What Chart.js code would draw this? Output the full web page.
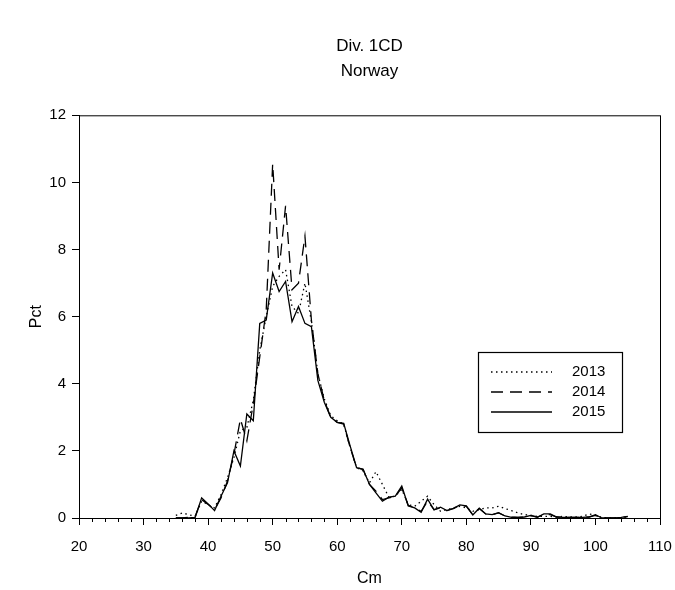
<!DOCTYPE html>
<html>
<head>
<meta charset="utf-8">
<script src="https://cdn.jsdelivr.net/npm/chart.js@4.4.1/dist/chart.umd.min.js"></script>
<style>
  html, body { margin: 0; padding: 0; background: #fff; }
  canvas { display: block; }
</style>
</head>
<body>
<canvas id="lengths-chart" width="675" height="590"></canvas>
<script>
  // length classes (cm)
  const lengthsCm = [
    35, 36, 37, 38, 39, 40, 41, 42, 43, 44, 45, 46, 47, 48, 49, 50, 51, 52, 53, 54,
    55, 56, 57, 58, 59, 60, 61, 62, 63, 64, 65, 66, 67, 68, 69, 70, 71, 72, 73, 74,
    75, 76, 77, 78, 79, 80, 81, 82, 83, 84, 85, 86, 87, 88, 89, 90, 91, 92, 93, 94,
    95, 96, 97, 98, 99, 100, 101, 102, 103, 104, 105
  ];

  const pct2013 = [
    0.08, 0.15, 0.1, 0.05, 0.5, 0.4, 0.3, 0.7, 1.2, 1.8, 2.6, 2.7, 3.5, 5.0, 6.0, 6.9, 7.2, 7.4, 6.3, 6.1,
    7.0, 5.85, 4.3, 3.55, 3.05, 2.9, 2.8, 2.1, 1.5, 1.4, 1.05, 1.38, 1.0, 0.62, 0.65, 0.85, 0.4, 0.35, 0.5, 0.65,
    0.4, 0.2, 0.25, 0.3, 0.35, 0.3, 0.2, 0.25, 0.3, 0.3, 0.35, 0.28, 0.22, 0.15, 0.1, 0.08, 0.05, 0.05, 0.05, 0.03,
    0.05, 0.03, 0.03, 0.05, 0.12, 0.08, 0.02, 0, 0, 0, 0
  ];

  const pct2014 = [
    0, 0, 0.02, 0.05, 0.55, 0.4, 0.25, 0.6, 1.1, 1.9, 2.95, 2.3, 3.4, 4.8, 6.2, 10.55, 7.4, 9.3, 6.8, 7.0,
    8.4, 5.9, 4.3, 3.5, 3.0, 2.85, 2.8, 2.1, 1.5, 1.45, 1.0, 0.8, 0.55, 0.6, 0.65, 0.9, 0.38, 0.3, 0.2, 0.5,
    0.25, 0.3, 0.22, 0.28, 0.38, 0.35, 0.1, 0.28, 0.12, 0.1, 0.15, 0.06, 0.03, 0.02, 0.03, 0.07, 0.03, 0.1, 0.1, 0.03,
    0.02, 0.02, 0.02, 0.02, 0.03, 0.08, 0, 0, 0, 0.02, 0.04
  ];

  const pct2015 = [
    0, 0, 0, 0.02, 0.6, 0.42, 0.22, 0.65, 1.05, 2.0, 1.55, 3.1, 2.9, 5.8, 5.9, 7.3, 6.75, 7.05, 5.85, 6.3,
    5.8, 5.7, 4.1, 3.45, 3.0, 2.85, 2.82, 2.15, 1.5, 1.45, 1.0, 0.75, 0.5, 0.62, 0.65, 0.95, 0.36, 0.3, 0.17, 0.56,
    0.24, 0.32, 0.22, 0.29, 0.39, 0.36, 0.09, 0.29, 0.12, 0.1, 0.16, 0.06, 0.02, 0.02, 0.03, 0.08, 0.02, 0.12, 0.12, 0.03,
    0.02, 0.02, 0.02, 0.02, 0.03, 0.1, 0, 0, 0, 0.02, 0.05
  ];

  const seriesLabels = ['2013', '2014', '2015'];
  const titleLines = ['Div. 1CD', 'Norway'];

  const FONT = "'Liberation Sans', Arial, sans-serif";

  function toPoints(values) {
    return lengthsCm.map((x, i) => ({ x, y: values[i] }));
  }

  const dashes = [[1.5, 3.5], [12, 7], []];
  const datasets = [pct2013, pct2014, pct2015].map((vals, i) => ({
    label: seriesLabels[i],
    data: toPoints(vals),
    borderColor: '#000',
    borderWidth: 1.3,
    borderDash: dashes[i],
    pointRadius: 0,
    tension: 0,
    fill: false,
  }));

  // frame, minor x ticks and the inset legend
  const framePlugin = {
    id: 'frame',
    afterDraw(chart) {
      const { ctx, chartArea: a, scales } = chart;
      ctx.save();
      ctx.strokeStyle = '#000';
      ctx.lineWidth = 1;
      ctx.strokeRect(a.left + 0.5, a.top + 0.5, a.right - a.left, a.bottom - a.top);

      ctx.beginPath();
      for (let v = 22; v < 110; v += 2) {
        if (v % 10 === 0) continue;
        const px = Math.round(scales.x.getPixelForValue(v)) + 0.5;
        ctx.moveTo(px, a.bottom);
        ctx.lineTo(px, a.bottom + 4);
      }
      ctx.stroke();

      // legend box
      const bx = 478, by = 352, bw = 144, bh = 80;
      ctx.fillStyle = '#fff';
      ctx.fillRect(bx, by, bw, bh);
      ctx.lineWidth = 1.2;
      ctx.strokeRect(bx + 0.5, by + 0.5, bw, bh);
      ctx.font = '15px ' + FONT;
      ctx.textBaseline = 'middle';
      ctx.textAlign = 'left';
      chart.data.datasets.forEach((ds, i) => {
        const y = by + 20 + i * 20;
        ctx.setLineDash(ds.borderDash);
        ctx.lineWidth = 1.3;
        ctx.beginPath();
        ctx.moveTo(491, y);
        ctx.lineTo(552, y);
        ctx.stroke();
        ctx.setLineDash([]);
        ctx.fillStyle = '#000';
        ctx.fillText(ds.label, 572, y);
      });
      ctx.restore();
    },
  };

  new Chart(document.getElementById('lengths-chart'), {
    type: 'line',
    data: { datasets },
    plugins: [framePlugin],
    options: {
      responsive: false,
      animation: false,
      layout: { padding: { left: 0, right: 15, top: 0, bottom: 0 } },
      plugins: {
        legend: { display: false },
        tooltip: { enabled: false },
        title: {
          display: true,
          text: titleLines,
          fullSize: false,
          color: '#000',
          font: { family: FONT, size: 17, weight: 'normal', lineHeight: 1.45 },
          padding: { top: 34, bottom: 32 },
        },
      },
      scales: {
        x: {
          type: 'linear',
          min: 20,
          max: 110,
          afterFit: (scale) => {
            scale.height = 72;
            scale.paddingLeft = 0;
            scale.paddingRight = 0;
          },
          ticks: {
            stepSize: 10,
            color: '#000',
            padding: 13,
            font: { family: FONT, size: 15 },
            maxRotation: 0,
          },
          grid: { drawOnChartArea: false, tickLength: 7, color: '#000' },
          border: { color: '#000', width: 1 },
          title: {
            display: true,
            text: 'Cm',
            color: '#000',
            font: { family: FONT, size: 16 },
            padding: { top: 0, bottom: 2 },
          },
        },
        y: {
          min: 0,
          max: 12,
          afterFit: (scale) => {
            scale.width = 79;
            scale.paddingTop = 0;
            scale.paddingBottom = 0;
          },
          ticks: {
            stepSize: 2,
            color: '#000',
            padding: 6,
            font: { family: FONT, size: 15 },
          },
          grid: { drawOnChartArea: false, tickLength: 7, color: '#000' },
          border: { color: '#000', width: 1 },
          title: {
            display: true,
            text: 'Pct',
            color: '#000',
            font: { family: FONT, size: 16 },
            padding: { top: 27, bottom: 0 },
          },
        },
      },
    },
  });
</script>
</body>
</html>
